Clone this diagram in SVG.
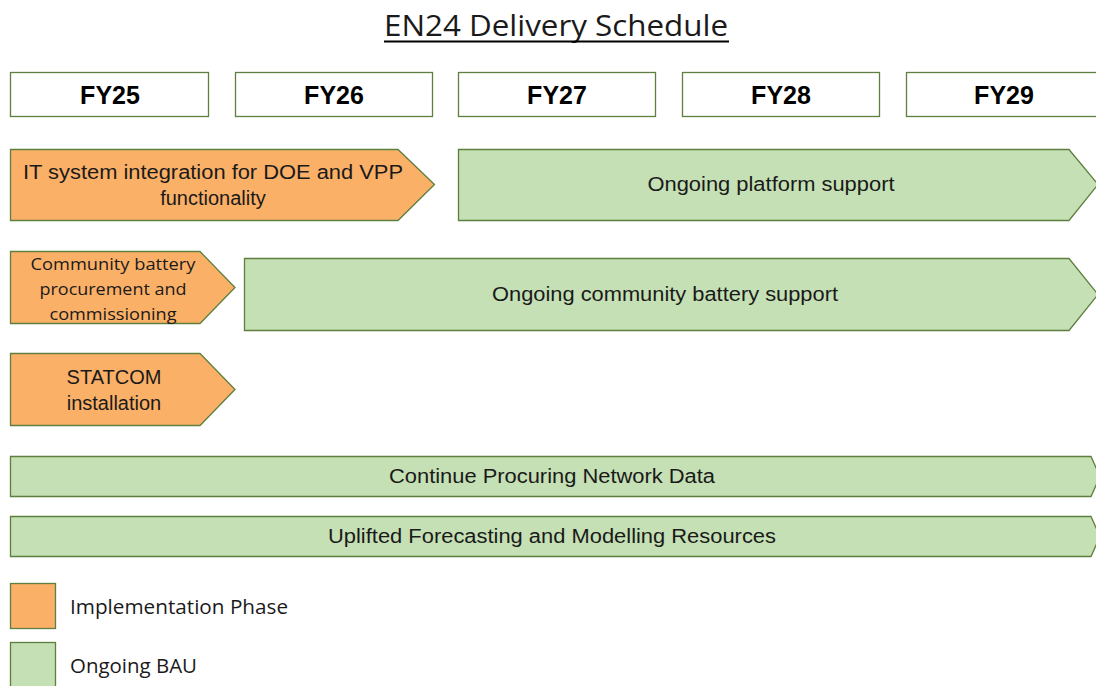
<svg xmlns="http://www.w3.org/2000/svg" width="1096" height="686" viewBox="0 0 1096 686">
<style>
.box{fill:#ffffff;stroke:#5E7F3E;stroke-width:1.3}
.imp{fill:#FBB067;stroke:#5E7F3E;stroke-width:1.3}
.bau{fill:#C5E0B4;stroke:#5E7F3E;stroke-width:1.3}
.fy{font-family:"Liberation Sans",Arial,sans-serif;font-weight:bold;font-size:25px;fill:#000;text-anchor:middle}
.lbl{font-family:"Liberation Sans",Arial,sans-serif;font-size:20px;fill:#1a1a1a;text-anchor:middle}
.cal{font-family:"Open Sans","Noto Sans",sans-serif;fill:#1a1a1a}
</style>
<rect width="1096" height="686" fill="#ffffff"/>
<g id="title">
<text x="556" y="36" class="cal" font-size="29" text-anchor="middle" textLength="344" lengthAdjust="spacingAndGlyphs" fill="#000">EN24 Delivery Schedule</text>
<line x1="384" y1="41.5" x2="729" y2="41.5" stroke="#000" stroke-width="2"/>
</g>
<g id="fy25"><rect class="box" x="10.5" y="72.5" width="198" height="44"/><text class="fy" x="110" y="104">FY25</text></g>
<g id="fy26"><rect class="box" x="235.5" y="72.5" width="197" height="44"/><text class="fy" x="334" y="104">FY26</text></g>
<g id="fy27"><rect class="box" x="458.5" y="72.5" width="197" height="44"/><text class="fy" x="557" y="104">FY27</text></g>
<g id="fy28"><rect class="box" x="682.5" y="72.5" width="197" height="44"/><text class="fy" x="781" y="104">FY28</text></g>
<g id="fy29"><rect class="box" x="906.5" y="72.5" width="197" height="44"/><text class="fy" x="1004" y="104">FY29</text></g>
<g id="it-integration">
<polygon class="imp" points="10.5,149.5 398,149.5 434.5,184.5 398,220.5 10.5,220.5"/>
<text class="lbl" x="213" y="179" textLength="380" lengthAdjust="spacingAndGlyphs">IT system integration for DOE and VPP</text>
<text class="lbl" x="213" y="205">functionality</text>
</g>
<g id="platform-support">
<polygon class="bau" points="458.5,149.5 1069,149.5 1098,184.5 1069,220.5 458.5,220.5"/>
<text class="lbl" x="771" y="191" textLength="247" lengthAdjust="spacingAndGlyphs">Ongoing platform support</text>
</g>
<g id="community-battery">
<polygon class="imp" points="10.5,251.5 200,251.5 235,287.5 200,323.5 10.5,323.5"/>
<text class="cal" font-size="17" text-anchor="middle" x="113" y="270" textLength="165" lengthAdjust="spacingAndGlyphs">Community battery</text>
<text class="cal" font-size="17" text-anchor="middle" x="113" y="295" textLength="147" lengthAdjust="spacingAndGlyphs">procurement and</text>
<text class="cal" font-size="17" text-anchor="middle" x="113" y="320" textLength="127" lengthAdjust="spacingAndGlyphs">commissioning</text>
</g>
<g id="battery-support">
<polygon class="bau" points="244.5,258.5 1069,258.5 1098,294.5 1069,330.5 244.5,330.5"/>
<text class="lbl" x="665" y="301" textLength="346" lengthAdjust="spacingAndGlyphs">Ongoing community battery support</text>
</g>
<g id="statcom">
<polygon class="imp" points="10.5,353.5 200,353.5 235,389.5 200,425.5 10.5,425.5"/>
<text class="lbl" x="114" y="384">STATCOM</text>
<text class="lbl" x="114" y="410">installation</text>
</g>
<g id="network-data">
<polygon class="bau" points="10.5,456.5 1091,456.5 1100,476.5 1091,496.5 10.5,496.5"/>
<text class="lbl" x="552" y="483" textLength="326" lengthAdjust="spacingAndGlyphs">Continue Procuring Network Data</text>
</g>
<g id="forecasting">
<polygon class="bau" points="10.5,516.5 1091,516.5 1100,536.5 1091,556.5 10.5,556.5"/>
<text class="lbl" x="552" y="543" textLength="448" lengthAdjust="spacingAndGlyphs">Uplifted Forecasting and Modelling Resources</text>
</g>
<g id="legend-implementation">
<rect class="imp" x="10.5" y="583.5" width="45" height="45"/>
<text class="cal" font-size="20" x="70" y="614" textLength="218" lengthAdjust="spacingAndGlyphs">Implementation Phase</text>
</g>
<g id="legend-bau">
<rect class="bau" x="10.5" y="642.5" width="45" height="50"/>
<text class="cal" font-size="20" x="70" y="673" textLength="127" lengthAdjust="spacingAndGlyphs">Ongoing BAU</text>
</g>
<g id="connectors"></g>
</svg>
